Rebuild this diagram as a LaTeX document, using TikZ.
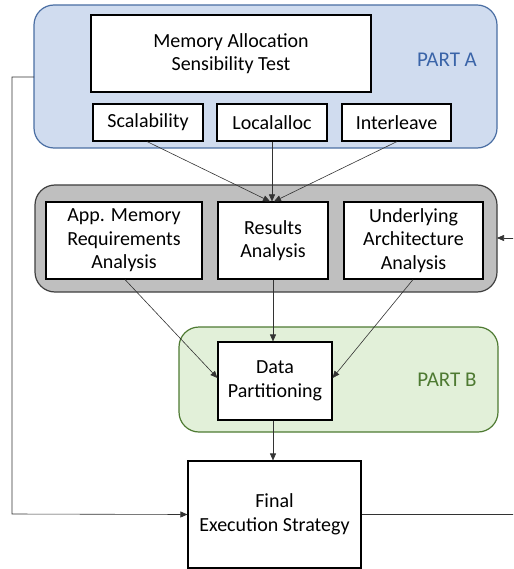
\documentclass[tikz,border=0pt]{standalone}
\usepackage{fontspec}
\setmainfont{Carlito}
\usetikzlibrary{arrows.meta,calc}
\definecolor{blueFill}{HTML}{D0DCEF}
\definecolor{blueLine}{HTML}{4A6EA3}
\definecolor{blueText}{HTML}{3A64A8}
\definecolor{grayFill}{HTML}{BFBFBF}
\definecolor{grayLine}{HTML}{3F3F3F}
\definecolor{greenFill}{HTML}{E2F0D9}
\definecolor{greenLine}{HTML}{4E7A32}
\definecolor{greenText}{HTML}{4E7A32}
\definecolor{connC}{HTML}{333333}
\begin{document}
\begin{tikzpicture}[x=1pt,y=-1pt,
  wbox/.style={draw=black,fill=white,line width=1.1pt,align=center,inner sep=0pt,
    font=\fontsize{20}{23.5}\selectfont},
  container/.style={line width=1.2pt,rounded corners=20pt},
  conn/.style={draw=connC,line width=0.6pt,-{Triangle[length=7pt,width=6pt]}},
  parttext/.style={font=\fontsize{21}{24}\selectfont}]
\useasboundingbox (0,0) rectangle (513,569);
\clip (0,0) rectangle (513,569);
% containers
\path[container,fill=blueFill,draw=blueLine] (34,5) rectangle (497,148);
\coordinate (pa) at (34,77);
\path[container,fill=grayFill,draw=grayLine] (35,185) rectangle (497,292);
\coordinate (gr) at (497,238);
\path[container,fill=greenFill,draw=greenLine] (179,327) rectangle (498,432);
\node[parttext,text=blueText] (parta) at (447,60) {PART A};
\node[parttext,text=greenText] (partb) at (447,380) {PART B};
% boxes
\node[wbox,minimum width=280pt,minimum height=77pt] (mat) at (231,53.5) {Memory Allocation\\Sensibility Test};
\node[wbox,minimum width=110pt,minimum height=37pt] (scal) at (148,122.5) {Scalability};
\node[wbox,minimum width=110pt,minimum height=37pt] (loc) at (272,122.5) {Localalloc};
\node[wbox,minimum width=109pt,minimum height=37pt] (inter) at (396.5,122.5) {Interleave};
\node[wbox,minimum width=156pt,minimum height=77pt] (app) at (124,240.5) {App. Memory\\Requirements\\Analysis};
\node[wbox,minimum width=110pt,minimum height=77pt] (res) at (273,240.5) {Results\\Analysis};
\node[wbox,minimum width=139pt,minimum height=77pt] (und) at (413.5,240.5) {Underlying\\Architecture\\Analysis};
\node[wbox,minimum width=114pt,minimum height=78pt] (data) at (275,381) {Data\\Partitioning};
\node[wbox,minimum width=173pt,minimum height=107pt] (final) at (274.5,514.5) {Final\\Execution Strategy};
% connectors
\draw[conn] ($(scal.south)+(-1,0)$) -- ($(res.north)+(-3,0)$);
\draw[conn] (loc.south) -- ($(res.north)+(-1,0)$);
\draw[conn] ($(inter.south)+(0.5,0)$) -- ($(res.north)+(1,0)$);
\draw[conn] ($(app.south)+(1,0)$) -- ($(data.west)+(0,-3)$);
\draw[conn] (res.south) -- ($(data.north)+(-2,0)$);
\draw[conn] ($(und.south)+(-0.5,0)$) -- ($(data.east)+(0,-3)$);
\draw[conn] ($(data.south)+(-2,0)$) -- ($(final.north)+(-1.5,0)$);
\draw[conn] (pa) -- (12,77) -- (12,514) -- (final.west);
\draw[conn] (final.east) -- (530,514.5) -- (530,238) -- (gr);
\end{tikzpicture}
\end{document}
